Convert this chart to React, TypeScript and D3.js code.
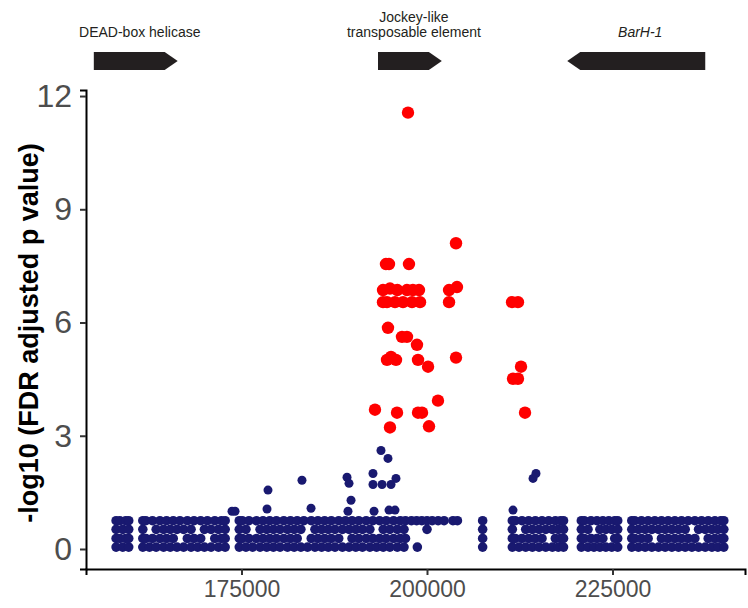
import { useRef, useEffect } from 'react';
import * as d3 from 'd3';

// positions in kb, one array per row of the dense low-significance band
const bandLevels = [0.05, 0.28, 0.52, 0.75];

const bandBottom = [
  158.1, 159.0, 159.8,
  161.7, 162.6, 163.5, 164.5, 165.4, 166.3, 167.2, 168.2, 169.1, 170.0, 170.9, 171.9, 172.8,
  174.7, 175.6, 176.5, 177.5, 178.4, 179.3, 180.2, 181.2, 182.1, 183.0, 183.9, 184.9, 185.8, 186.7,
  187.6, 188.6, 189.5, 190.4, 191.3, 192.3, 193.2, 194.1, 195.0, 196.0, 196.9, 198.7,
  207.5,
  211.5, 212.4, 213.3, 214.2, 215.1, 216.0, 216.9, 217.7, 218.4,
  220.8, 221.7, 222.5, 223.3, 224.1, 224.9, 225.7,
  227.6, 228.5, 229.4, 230.3, 231.2, 232.1, 233.0, 233.9, 234.8, 235.7, 236.6, 237.5, 238.4, 239.2, 240.0,
];

const bandLow = [
  158.1, 158.6, 159.4, 159.8,
  161.7, 162.1, 163.0, 164.0, 164.9, 165.8, 167.7, 168.6, 169.5, 171.4, 172.3, 172.8,
  174.7, 175.1, 176.0, 177.0, 177.9, 178.8, 179.7, 180.7, 181.6, 182.5, 184.4, 185.3, 186.2,
  187.1, 188.1, 189.9, 190.8, 191.8, 192.7, 193.6, 194.5, 195.5, 196.4, 197.1,
  207.5,
  211.5, 211.9, 212.8, 213.7, 214.6, 215.5, 217.3, 218.0, 218.4,
  220.8, 221.2, 222.1, 222.9, 223.7, 225.3, 225.7,
  227.6, 228.0, 228.9, 229.8, 231.6, 232.5, 233.4, 234.3, 235.2, 236.1, 237.9, 238.8, 239.6, 240.0,
];

const bandHigh = [
  158.1, 159.0, 159.8,
  161.7, 163.5, 164.5, 165.4, 166.3, 167.2, 168.2, 170.0, 170.9, 171.9, 172.8,
  174.7, 175.6, 177.5, 178.4, 179.3, 180.2, 181.2, 182.1, 183.0, 184.9, 185.8, 186.7,
  187.6, 188.6, 189.5, 190.4, 191.3, 192.3, 194.1, 195.0, 196.0, 196.9, 200.0,
  207.5,
  211.5, 213.3, 214.2, 215.1, 216.0, 216.9, 217.7, 218.4,
  220.8, 221.7, 223.3, 224.1, 224.9, 225.7,
  227.6, 228.5, 229.4, 230.3, 231.2, 232.1, 233.0, 233.9, 234.8, 236.6, 237.5, 238.4, 239.2, 240.0,
];

const bandTop = [
  158.1, 158.6, 159.4, 159.8,
  161.7, 162.1, 163.0, 164.0, 164.9, 165.8, 166.7, 167.7, 168.6, 169.5, 170.4, 171.4, 172.3, 172.8,
  174.7, 175.1, 176.0, 177.0, 177.9, 178.8, 179.7, 180.7, 181.6, 182.5, 183.4, 184.4, 185.3, 186.2,
  187.1, 188.1, 189.0, 189.9, 190.8, 191.8, 192.7, 193.6, 194.5, 195.5, 196.4, 197.1,
  197.9, 198.6, 199.3, 200.0, 200.7, 201.5, 202.3, 203.5, 204.1,
  207.5,
  211.5, 211.9, 212.8, 213.7, 214.6, 215.5, 216.4, 217.3, 218.0, 218.4,
  220.8, 221.2, 222.1, 222.9, 223.7, 224.5, 225.3, 225.7,
  227.6, 228.0, 228.9, 229.8, 230.7, 231.6, 232.5, 233.4, 234.3, 235.2, 236.1, 237.0, 237.9, 238.8, 239.6, 240.0,
];

// [position kb, -log10 FDR] for non-significant sites above the band
const blueRaised = [
  [193.8, 2.61], [194.74, 2.4], [192.72, 2.0], [195.82, 1.87], [192.72, 1.71], [193.94, 1.71],
  [195.15, 1.71], [189.22, 1.9], [189.49, 1.74], [189.76, 1.29], [189.35, 1.0], [192.86, 1.0],
  [194.88, 1.03], [195.69, 1.03], [183.15, 1.82], [184.37, 1.08], [178.57, 1.56], [178.44, 1.06],
  [173.72, 1.0], [174.13, 1.0], [211.59, 1.03], [214.29, 1.87], [214.69, 2.0],
];

// significant sites
const redPoints = [
  [197.44, 11.56], [203.91, 8.1],
  [194.47, 7.55], [194.88, 7.55], [197.57, 7.55],
  [194.07, 6.86], [195.01, 6.9], [196.0, 6.86], [197.3, 6.86], [198.1, 6.86], [198.92, 6.86],
  [202.97, 6.86], [204.04, 6.94],
  [194.07, 6.54], [194.61, 6.54], [195.69, 6.54], [196.77, 6.54], [197.98, 6.54], [199.06, 6.54],
  [202.97, 6.54], [211.46, 6.54], [212.26, 6.54],
  [194.74, 5.86], [196.63, 5.62], [197.3, 5.62], [198.65, 5.41],
  [194.61, 5.01], [195.15, 5.09], [195.82, 5.01], [198.79, 5.01], [200.14, 4.83], [203.91, 5.07],
  [212.67, 4.83], [211.59, 4.51], [212.26, 4.51],
  [201.48, 3.93], [192.99, 3.69], [195.96, 3.61], [198.79, 3.61], [199.33, 3.61], [213.21, 3.61],
  [195.01, 3.22], [200.27, 3.25],
];

const genes = [
  { lines: ['DEAD-box helicase'], start: 155.1, end: 166.4, strand: 1, italic: false },
  { lines: ['Jockey-like', 'transposable element'], start: 193.4, end: 202.0, strand: 1, italic: false },
  { lines: ['BarH-1'], start: 218.9, end: 237.5, strand: -1, italic: true },
];

const xTicks = [175000, 200000, 225000];
const yTicks = [0, 3, 6, 9, 12];

const App = () => {
  const ref = useRef(null);

  useEffect(() => {
    const svg = d3.select(ref.current);
    svg.selectAll('*').remove();
    const font = '"Liberation Sans", Arial, Helvetica, sans-serif';

    const x = d3.scaleLinear().domain([154043, 242857]).range([86, 745]);
    const y = d3.scaleLinear().domain([-0.53, 12.16]).range([569, 90]);

    // gene track
    const track = svg.append('g');
    const top = 52, h = 18, head = 13;
    genes.forEach(g => {
      const x0 = x(g.start * 1000), x1 = x(g.end * 1000);
      const pts = g.strand > 0
        ? [[x0, top], [x1 - head, top], [x1, top + h / 2], [x1 - head, top + h], [x0, top + h]]
        : [[x1, top], [x0 + head, top], [x0, top + h / 2], [x0 + head, top + h], [x1, top + h]];
      track.append('path')
        .attr('d', d3.line()(pts) + 'Z')
        .attr('fill', '#231f20');
      const cx = (x0 + x1) / 2 + 4;
      g.lines.forEach((l, i) => {
        track.append('text')
          .attr('x', cx)
          .attr('y', 37 - (g.lines.length - 1 - i) * 15)
          .attr('text-anchor', 'middle')
          .attr('font-family', font)
          .attr('font-size', 14)
          .attr('font-style', g.italic ? 'italic' : 'normal')
          .attr('fill', '#231f20')
          .text(l);
      });
    });

    // points
    const plot = svg.append('g');
    [bandBottom, bandLow, bandHigh, bandTop].forEach((row, i) => {
      plot.selectAll(null)
        .data(row)
        .enter().append('circle')
        .attr('cx', d => x(d * 1000))
        .attr('cy', y(bandLevels[i]))
        .attr('r', 4.8)
        .attr('fill', '#191970');
    });
    plot.selectAll(null)
      .data(blueRaised)
      .enter().append('circle')
      .attr('cx', d => x(d[0] * 1000))
      .attr('cy', d => y(d[1]))
      .attr('r', 4.5)
      .attr('fill', '#191970');
    plot.selectAll(null)
      .data(redPoints)
      .enter().append('circle')
      .attr('cx', d => x(d[0] * 1000))
      .attr('cy', d => y(d[1]))
      .attr('r', 6.2)
      .attr('fill', '#ff0000');

    // axes
    const xAxis = svg.append('g')
      .attr('transform', 'translate(0,569)')
      .call(d3.axisBottom(x).tickValues(xTicks).tickFormat(d3.format('d')).tickSize(6).tickPadding(6));
    const yAxis = svg.append('g')
      .attr('transform', 'translate(86,0)')
      .call(d3.axisLeft(y).tickValues(yTicks).tickSize(6).tickPadding(8));
    [xAxis, yAxis].forEach(a => {
      a.select('.domain').attr('stroke', '#000').attr('stroke-width', 2);
      a.selectAll('.tick line').attr('stroke', '#333').attr('stroke-width', 2);
      a.selectAll('.tick text').attr('fill', '#4d4d4d').attr('font-family', font);
    });
    xAxis.selectAll('.tick text').attr('font-size', 23);
    yAxis.selectAll('.tick text').attr('font-size', 32);

    svg.append('text')
      .attr('transform', 'translate(38,333) rotate(-90)')
      .attr('text-anchor', 'middle')
      .attr('font-family', font)
      .attr('font-weight', 'bold')
      .attr('font-size', 27)
      .attr('fill', '#000')
      .text('-log10 (FDR adjusted p value)');
  }, []);

  return (
    <svg ref={ref} width={748} height={608} style={{ position: 'absolute', left: 0, top: 0 }}></svg>
  );
};

export default App;
